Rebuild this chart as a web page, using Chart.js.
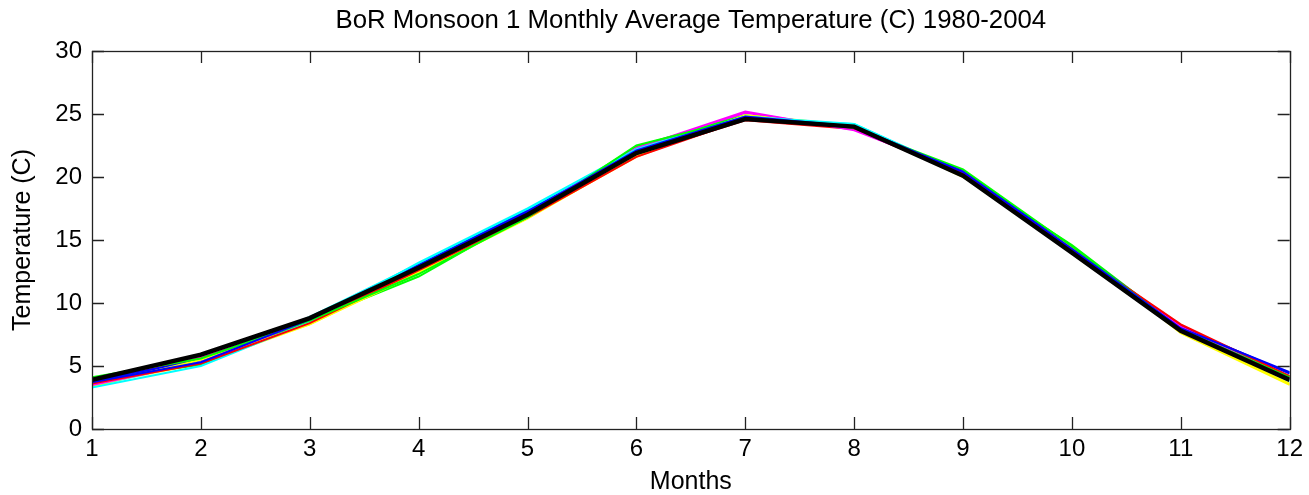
<!DOCTYPE html>
<html>
<head>
<meta charset="utf-8">
<script src="https://cdn.jsdelivr.net/npm/chart.js@4.4.1/dist/chart.umd.min.js"></script>
<style>
html,body{margin:0;padding:0;background:#fff;}
#wrap{width:1309px;height:495px;}
</style>
</head>
<body>
<div id="wrap"><canvas id="c" width="1309" height="495"></canvas></div>
<script>
// ---- data ----
const chartTitle = 'BoR Monsoon 1 Monthly Average Temperature (C) 1980-2004';
const months = [1,2,3,4,5,6,7,8,9,10,11,12];
const yTicks = [0,5,10,15,20,25,30];
const meanTemp = [3.9,5.9,8.8,12.8,17.0,21.9,24.6,24.0,20.1,14.0,7.8,3.9];
const run01 = [3.7,5.3,8.7,12.9,17.2,22.1,24.8,24.0,20.4,14.3,8.0,4.5];
const run02 = [4.1,5.6,8.6,12.3,16.8,22.5,24.7,23.9,20.6,14.5,7.9,4.1];
const run03 = [3.6,5.2,8.4,12.6,16.8,21.6,24.6,24.0,20.3,14.2,8.3,4.2];
const run04 = [3.3,5.0,8.5,13.2,17.5,22.2,24.8,24.2,20.2,14.1,7.9,3.9];
const run05 = [3.5,5.3,8.7,12.8,17.1,22.3,25.2,23.7,20.4,14.2,8.1,4.0];
const run06 = [3.4,5.5,8.3,12.4,16.7,21.7,24.9,24.1,20.0,14.4,7.6,3.5];
const run07 = [3.8,5.5,8.8,13.0,17.3,22.0,24.7,23.9,20.5,14.4,8.1,4.4];
const run08 = [3.9,5.1,8.6,12.1,17.0,22.4,24.9,24.0,20.2,14.6,8.0,4.2];
const run09 = [3.7,5.6,8.5,12.7,16.9,21.8,24.5,23.8,20.2,14.0,8.2,4.1];
const run10 = [3.4,5.4,8.9,13.1,17.4,22.0,24.6,24.2,20.3,14.3,7.8,3.8];
const run11 = [3.6,5.7,8.8,12.9,17.2,22.1,25.1,23.8,20.3,14.1,8.2,4.0];
const run12 = [3.5,5.2,8.3,12.5,16.8,21.6,24.8,24.1,20.1,14.3,7.7,3.6];
const runs = [run01,run02,run03,run04,run05,run06,run07,run08,run09,run10,run11,run12];
const runColors = ['#0000ff','#00ff00','#ff0000','#00ffff','#ff00ff','#ffff00'];

const toXY = arr => arr.map((v,i)=>({x:months[i], y:v}));

const datasets = [{
  data: toXY(meanTemp), borderColor:'#000', borderWidth:4.5, pointRadius:0, tension:0
}];
runs.forEach((r,i)=>datasets.push({
  data: toXY(r), borderColor: runColors[i % runColors.length], borderWidth:2, pointRadius:0, tension:0
}));

const FONT = '"Liberation Sans", Arial, Helvetica, sans-serif';

const boxTicks = {
  id:'boxTicks',
  afterDraw(chart){
    const {ctx, chartArea:a, scales:{x,y}} = chart;
    const L = 12;
    ctx.save();
    ctx.strokeStyle = '#222';
    ctx.lineWidth = 1.3;
    ctx.beginPath();
    months.forEach(m=>{
      const px = Math.round(x.getPixelForValue(m))+0.5;
      ctx.moveTo(px,a.bottom); ctx.lineTo(px,a.bottom-L);
      ctx.moveTo(px,a.top); ctx.lineTo(px,a.top+L);
    });
    yTicks.forEach(t=>{
      const py = Math.round(y.getPixelForValue(t))+0.5;
      ctx.moveTo(a.left,py); ctx.lineTo(a.left+L,py);
      ctx.moveTo(a.right,py); ctx.lineTo(a.right-L,py);
    });
    ctx.stroke();
    ctx.strokeRect(Math.round(a.left)+0.5, Math.round(a.top)+0.5, Math.round(a.right-a.left), Math.round(a.bottom-a.top));
    // title centred over the axes, as MATLAB does
    ctx.fillStyle = '#000';
    ctx.font = '25.8px ' + FONT;
    ctx.textAlign = 'center';
    ctx.textBaseline = 'middle';
    ctx.fillText(chartTitle, (a.left + a.right) / 2, 21);
    ctx.restore();
  }
};

new Chart(document.getElementById('c'), {
  type:'line',
  data:{datasets},
  plugins:[boxTicks],
  options:{
    responsive:false,
    animation:false,
    events:[],
    layout:{padding:{left:0,right:15,top:51,bottom:0}},
    plugins:{
      legend:{display:false},
      tooltip:{enabled:false},
      title:{display:false}
    },
    scales:{
      x:{
        type:'linear', min:1, max:12,
        grid:{display:false, drawTicks:false},
        border:{display:false},
        afterBuildTicks(s){ s.ticks = months.map(v=>({value:v})); },
        ticks:{color:'#000', font:{family:FONT,size:24}, padding:6, maxRotation:0, autoSkip:false},
        title:{display:true, text:'Months', color:'#000', font:{family:FONT,size:25,lineHeight:1}, padding:{top:0,bottom:0}},
        afterFit(s){ s.height = 66; }
      },
      y:{
        type:'linear', min:0, max:30,
        grid:{display:false, drawTicks:false},
        border:{display:false},
        afterBuildTicks(s){ s.ticks = yTicks.map(v=>({value:v})); },
        ticks:{color:'#000', font:{family:FONT,size:24}, padding:10},
        title:{display:true, text:'Temperature (C)', color:'#000', font:{family:FONT,size:25,lineHeight:1}, padding:{top:11,bottom:0}},
        afterFit(s){ s.width = 92; }
      }
    }
  }
});
</script>
</body>
</html>
